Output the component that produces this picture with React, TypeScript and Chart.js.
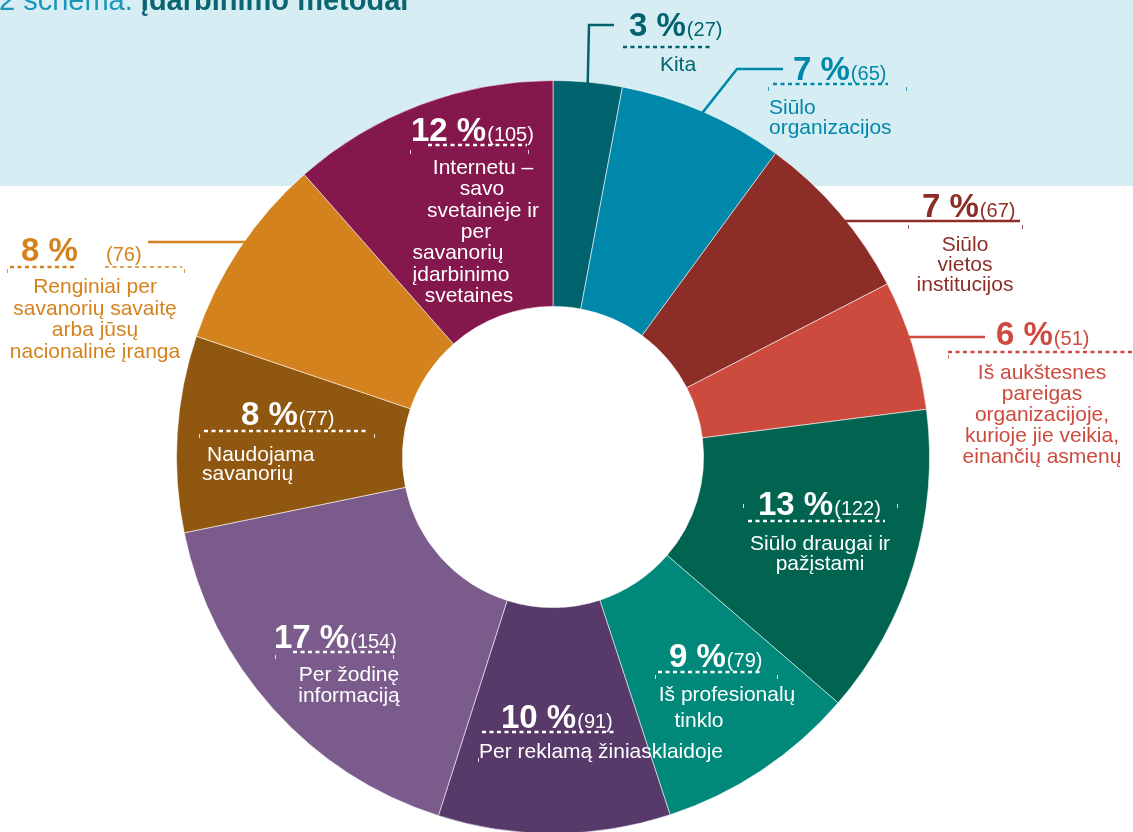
import React, { useEffect, useRef } from "react";
import { Chart, registerables } from "chart.js";

Chart.register(...registerables);

// ---------- data ----------
const categories = [
  "Kita",
  "Siūlo organizacijos",
  "Siūlo vietos institucijos",
  "Iš aukštesnes pareigas organizacijoje, kurioje jie veikia, einančių asmenų",
  "Siūlo draugai ir pažįstami",
  "Iš profesionalų tinklo",
  "Per reklamą žiniasklaidoje",
  "Per žodinę informaciją",
  "Naudojama savanorių",
  "Renginiai per savanorių savaitę arba jūsų nacionalinė įranga",
  "Internetu – savo svetainėje ir per savanorių įdarbinimo svetaines",
];
const counts = [27, 65, 67, 51, 122, 79, 91, 154, 77, 76, 105];
const percents = [3, 7, 7, 6, 13, 9, 10, 17, 8, 8, 12];
const labelLines = [
  ["Kita"],
  ["Siūlo", "organizacijos"],
  ["Siūlo", "vietos", "institucijos"],
  ["Iš aukštesnes", "pareigas", "organizacijoje,", "kurioje jie veikia,", "einančių asmenų"],
  ["Siūlo draugai ir", "pažįstami"],
  ["Iš profesionalų", "tinklo"],
  ["Per reklamą žiniasklaidoje"],
  ["Per žodinę", "informaciją"],
  ["Naudojama", "savanorių"],
  ["Renginiai per", "savanorių savaitę", "arba jūsų", "nacionalinė įranga"],
  ["Internetu –", "savo", "svetainėje ir", "per", "savanorių", "įdarbinimo", "svetaines"],
];
const titlePrefix = "2 schema. ";
const titleMain = "Įdarbinimo metodai";

// ---------- styles ----------
const sliceColors = [
  "#00636e", "#0088ab", "#8c2d27", "#cc4a3e", "#006450", "#00897a",
  "#573a6a", "#7a5b8c", "#8f5710", "#d4821d", "#84184c",
];
const textColors = [
  "#00636e", "#0088ab", "#8c2d27", "#cc4a3e", "#ffffff", "#ffffff",
  "#ffffff", "#ffffff", "#ffffff", "#d4821d", "#ffffff",
];
const FONT = "'Liberation Sans', Arial, sans-serif";

type Layout = {
  px: number; py: number; cx?: number;
  dot?: number[]; dot2?: number[]; ticks?: number[];
  lx: number[] | number; ly: number; lh: number; align: "center" | "left";
  leader?: { type: "h"; y: number; x2: number } | { type: "poly"; pts: number[][] };
};

const layout: Layout[] = [
  { px: 629, py: 36, dot: [623, 711, 47], lx: 678, ly: 71, lh: 21, align: "center",
    leader: { type: "poly", pts: [[589, 25], [614, 25]] } },
  { px: 793, py: 80, dot: [773, 888, 84], ticks: [768, 906, 89], lx: 769, ly: 114, lh: 20, align: "left",
    leader: { type: "poly", pts: [[737, 69], [783, 69]] } },
  { px: 922, py: 217, ticks: [908, 1022, 227], lx: 965, ly: 251, lh: 20, align: "center",
    leader: { type: "h", y: 221, x2: 1020 } },
  { px: 996, py: 345, dot: [948, 1133, 352], ticks: [948, 1200, 357], lx: 1042, ly: 379, lh: 21, align: "center",
    leader: { type: "h", y: 337, x2: 985 } },
  { px: 758, py: 515, dot: [748, 885, 521], ticks: [743, 897, 506], lx: 820, ly: 550, lh: 20, align: "center" },
  { px: 669, py: 667, dot: [658, 763, 672], ticks: [655, 777, 677], lx: [727, 699], ly: 701, lh: 26, align: "center" },
  { px: 501, py: 728, dot: [482, 615, 732], ticks: [478, 2000, 760], lx: 601, ly: 758, lh: 21, align: "center" },
  { px: 274, py: 648, dot: [293, 395, 652], ticks: [275, 393, 657], lx: 349, ly: 681, lh: 21, align: "center" },
  { px: 241, py: 425, dot: [204, 369, 431], ticks: [199, 374, 436], lx: [207, 202], ly: 461, lh: 19, align: "left" },
  { px: 21, py: 261, cx: 106, dot: [10, 77, 267], dot2: [105, 182, 267], ticks: [7, 184, 271], lx: 95, ly: 293, lh: 21.5, align: "center",
    leader: { type: "h", y: 242, x2: 148 } },
  { px: 411, py: 141, dot: [428, 527, 145], ticks: [410, 528, 152], lx: [483, 482, 483, 476, 458, 461, 469], ly: 174, lh: 21.3, align: "center" },
];

const backgroundPlugin = {
  id: "bgBand",
  beforeDraw(chart: any) {
    const ctx = chart.ctx as CanvasRenderingContext2D;
    ctx.save();
    ctx.fillStyle = "#ffffff";
    ctx.fillRect(0, 0, chart.width, chart.height);
    ctx.fillStyle = "#d6eef3";
    ctx.fillRect(0, 0, chart.width, 186);
    ctx.textBaseline = "alphabetic";
    ctx.textAlign = "left";
    ctx.font = `29px ${FONT}`;
    ctx.fillStyle = "#1b96bb";
    ctx.fillText(titlePrefix, -1, 10);
    const w = ctx.measureText(titlePrefix).width;
    ctx.font = `bold 29px ${FONT}`;
    ctx.fillStyle = "#0b6472";
    ctx.fillText(titleMain, -1 + w, 10);
    ctx.restore();
  },
};

const labelsPlugin = {
  id: "sliceLabels",
  afterDatasetsDraw(chart: any) {
    const ctx = chart.ctx as CanvasRenderingContext2D;
    const meta = chart.getDatasetMeta(0);
    const a0 = meta.data[0] as any;
    const cx = a0.x, cy = a0.y, R = a0.outerRadius;
    layout.forEach((L, i) => {
      const color = textColors[i];
      ctx.save();
      ctx.textBaseline = "alphabetic";
      if (L.leader) {
        ctx.strokeStyle = color;
        ctx.lineWidth = 2.5;
        ctx.setLineDash([]);
        ctx.beginPath();
        if (L.leader.type === "h") {
          const dy = L.leader.y - cy;
          const dx = Math.sqrt(Math.max(R * R - dy * dy, 0));
          const side = L.leader.x2 > cx ? 1 : -1;
          ctx.moveTo(cx + side * (dx - 3), L.leader.y);
          ctx.lineTo(L.leader.x2, L.leader.y);
        } else {
          const arc = meta.data[i] as any;
          const mid = (arc.startAngle + arc.endAngle) / 2;
          ctx.moveTo(cx + Math.cos(mid) * (R - 2), cy + Math.sin(mid) * (R - 2));
          L.leader.pts.forEach((p) => ctx.lineTo(p[0], p[1]));
        }
        ctx.stroke();
      }
      if (L.ticks) {
        ctx.strokeStyle = color;
        ctx.globalAlpha = 0.8;
        ctx.lineWidth = 1;
        ctx.setLineDash([]);
        ctx.beginPath();
        ctx.moveTo(L.ticks[0] + 0.5, L.ticks[2] - 2);
        ctx.lineTo(L.ticks[0] + 0.5, L.ticks[2] + 2);
        ctx.moveTo(L.ticks[1] + 0.5, L.ticks[2] - 2);
        ctx.lineTo(L.ticks[1] + 0.5, L.ticks[2] + 2);
        ctx.stroke();
        ctx.globalAlpha = 1;
      }
      const dotted = (d: number[], w: number) => {
        ctx.strokeStyle = color;
        ctx.lineWidth = w;
        ctx.setLineDash([4, 3.5]);
        ctx.beginPath();
        ctx.moveTo(d[0], d[2]);
        ctx.lineTo(d[1], d[2]);
        ctx.stroke();
      };
      if (L.dot) dotted(L.dot, 2.5);
      if (L.dot2) dotted(L.dot2, 1.5);
      ctx.setLineDash([]);
      ctx.fillStyle = color;
      ctx.textAlign = "left";
      ctx.font = `bold 33px ${FONT}`;
      const pctText = `${percents[i]} %`;
      ctx.fillText(pctText, L.px, L.py);
      const pw = ctx.measureText(pctText).width;
      ctx.font = `20px ${FONT}`;
      ctx.fillText(`(${counts[i]})`, L.cx ?? L.px + pw + 1, L.py);
      ctx.font = `21px ${FONT}`;
      ctx.textAlign = L.align;
      labelLines[i].forEach((line, j) => {
        const x = Array.isArray(L.lx) ? L.lx[j] ?? L.lx[0] : L.lx;
        ctx.fillText(line, x, L.ly + j * L.lh);
      });
      ctx.restore();
    });
  },
};

export default function App() {
  const ref = useRef<HTMLCanvasElement | null>(null);
  useEffect(() => {
    if (!ref.current) return;
    const chart = new Chart(ref.current, {
      type: "doughnut",
      data: {
        labels: categories,
        datasets: [
          {
            data: counts,
            backgroundColor: sliceColors,
            borderColor: "rgba(255,255,255,0.55)",
            borderWidth: 1,
          },
        ],
      },
      options: {
        responsive: false,
        animation: false,
        devicePixelRatio: 1,
        cutout: "40%",
        layout: { padding: { top: 80, left: 176, right: 203, bottom: 6 } },
        plugins: {
          legend: { display: false },
          tooltip: { enabled: false },
          title: { display: false },
        },
      },
      plugins: [backgroundPlugin, labelsPlugin],
    });
    return () => chart.destroy();
  }, []);
  return (
    <div style={{ position: "fixed", left: 0, top: 0, width: 1133, height: 832, overflow: "hidden", background: "#fff" }}>
      <canvas ref={ref} width={1133} height={840} style={{ display: "block" }} />
    </div>
  );
}
